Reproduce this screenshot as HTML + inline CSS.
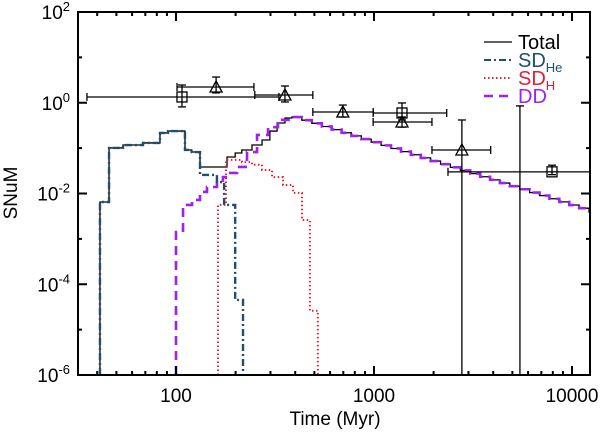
<!DOCTYPE html>
<html><head><meta charset="utf-8"><style>
body{margin:0;background:#fff}
svg text{font-family:"Liberation Sans",Arial,sans-serif}
</style></head><body>
<svg id="c" width="600" height="433" xmlns="http://www.w3.org/2000/svg"></svg>
<script>
// ---- data ----
const xTicks=[100,1000,10000];
const xTickLabels=["100","1000","10000"];
const yTicks=[1e2,1,1e-2,1e-4,1e-6];
const yTickExp=["2","0","-2","-4","-6"];
// step series: edges (Myr) and values (SNuM), values[i] spans edges[i]..edges[i+1]
const sdheEdges=[41.3,45.9,54.0,68.1,83.0,91.1,111,120,132.2,161,175,199,218];
const sdheVals=[0.0065,0.101,0.117,0.130,0.216,0.238,0.091,0.082,0.0256,0.0179,0.0056,0.000045];
const tailEdges=[385,432,485,545,611,686,769,863,968,1086,1219,1368,1535,1722,1932,2168,2432,2729,3062,3436,3855,4325,4853,5445,6109,6855,7691,8630,9683,10864,12190,12400];
const tailVals=[0.484,0.413,0.352,0.300,0.256,0.218,0.186,0.158,0.135,0.115,0.0983,0.0838,0.0714,0.0609,0.0519,0.0443,0.0377,0.0322,0.0274,0.0234,0.0200,0.0170,0.0145,0.0124,0.0105,0.0090,0.00766,0.00653,0.00557,0.00475,0.00405];
const totalEdges=[41.3,45.9,54.0,68.1,83.0,91.1,111,120,132.2,181,199,215,242,272,298,324,355,385];
const totalVals=[0.0065,0.101,0.117,0.130,0.216,0.238,0.091,0.082,0.0384,0.0637,0.078,0.091,0.117,0.151,0.238,0.358,0.461];
const ddEdges=[100,108.5,120.5,132.2,143.4,161,172.6,183.1,203.3,228.4,256.6,291.7,327.3,385];
const ddVals=[0.00141,0.0056,0.0072,0.0108,0.0139,0.0179,0.0230,0.0284,0.0384,0.082,0.195,0.29,0.42];
const sdhEdges=[162.9,178.8,215.4,242,271.8,305.5,347.3,389.9,432.8,474.7,520.5];
const sdhVals=[0.0056,0.055,0.049,0.043,0.033,0.023,0.0154,0.0103,0.0026,0.000026];
// observations
const obsT=[107.2,159.4,355,696,1385,1385,2779,7925];
const obsV=[1.34,2.22,1.48,0.625,0.595,0.377,0.091,0.030];
const obsTlo=[35.5,101.2,250,491,990,990,1962,2364];
const obsThi=[331,247.5,491,990,2329,1962,3885,20000];
const obsVlo=[0.81,1.65,1.04,0.485,0.417,0.29,1e-7,0.026];
const obsVhi=[2.46,3.69,2.34,0.89,0.99,0.485,0.417,0.042];
const obsMark=["sq","tri","tri","tri","sq","tri","tri","sq"];
const extraT=[5458];const extraHi=[0.85];

// ---- axes ----
const L=78,R=590,T=12,B=375;
const X=t=>176+198*(Math.log10(t)-2);
const Y=v=>102.75-45.375*Math.log10(v);
const cx=v=>Math.max(L,Math.min(R,v)), cy=v=>Math.max(T,Math.min(B,v));
const svg=document.getElementById('c');const NS='http://www.w3.org/2000/svg';
function mk(tag,at,parent){const e=document.createElementNS(NS,tag);for(const k in at)e.setAttribute(k,at[k]);(parent||svg).appendChild(e);return e;}

const clip=mk('clipPath',{id:'pc'});mk('rect',{x:L,y:T,width:R-L,height:B-T},clip);
const plot=mk('g',{'clip-path':'url(#pc)'});



function stepPath(edges,vals){let d='';for(let i=0;i<vals.length;i++){const x0=X(edges[i]),x1=X(edges[i+1]),y=cy(Y(vals[i]));if(i===0)d+='M'+x0+','+B+'L'+x0+','+y;else d+='L'+x0+','+y;d+='L'+x1+','+y;}d+='L'+X(edges[edges.length-1])+','+B;return d;}
function tailPath(edges,vals,start){let d=start;for(let i=0;i<vals.length;i++){const y=Y(vals[i]);d+='L'+X(edges[i])+','+y+'L'+X(edges[i+1])+','+y;}return d;}

// total
let td=stepPath(totalEdges,totalVals).replace(/L[^L]*$/,'');
td=tailPath(tailEdges,tailVals,td);
const tot=mk('path',{d:td,fill:'none',stroke:'#000','stroke-width':1.3},plot);


// DD
let dd=stepPath(ddEdges,ddVals).replace(/L[^L]*$/,'');
dd=tailPath(tailEdges,tailVals,dd);
const ddp=mk('path',{d:dd,fill:'none',stroke:'#a020f0','stroke-width':2.6,'stroke-dasharray':'9,6'},plot);


// SDH
const sdh=mk('path',{d:stepPath(sdhEdges,sdhVals),fill:'none',stroke:'#e0203a','stroke-width':2,'stroke-dasharray':'1.5,2.5'},plot);


// SDHe
const she=mk('path',{d:stepPath(sdheEdges,sdheVals),fill:'none',stroke:'#1f4e6e','stroke-width':2.4,'stroke-dasharray':'7,3,2,3'},plot);



// observations
for(let i=0;i<obsT.length;i++){
 const g=mk('g',{stroke:'#000','stroke-width':1.3,fill:'none'},plot);
 
 
 const x=X(obsT[i]),y=Y(obsV[i]),x0=X(obsTlo[i]),x1=X(obsThi[i]),y0=cy(Y(obsVlo[i])),y1=Y(obsVhi[i]);
 mk('line',{x1:x0,y1:y,x2:x1,y2:y},g);mk('line',{x1:x0,y1:y-4,x2:x0,y2:y+4},g);mk('line',{x1:x1,y1:y-4,x2:x1,y2:y+4},g);
 mk('line',{x1:x,y1:y0,x2:x,y2:y1},g);mk('line',{x1:x-4,y1:y1,x2:x+4,y2:y1},g);if(y0<B)mk('line',{x1:x-4,y1:y0,x2:x+4,y2:y0},g);
 if(obsMark[i]==='sq')mk('rect',{x:x-5,y:y-5,width:10,height:10},g);
 else mk('path',{d:`M${x-6},${y+5}L${x+6},${y+5}L${x},${y-6}Z`},g);
}
for(let i=0;i<extraT.length;i++){
 const x=X(extraT[i]),y=Y(extraHi[i]);
 const l=mk('path',{d:`M${x},${B}L${x},${y}M${x-4},${y}L${x+4},${y}`,stroke:'#000','stroke-width':1.3,fill:'none'},plot);
 
 
}

// frame & ticks
const ax=mk('g',{stroke:'#000','stroke-width':2,fill:'none'});


mk('rect',{x:L,y:T,width:R-L,height:B-T},ax);
for(let d=10;d<=10000;d*=10)for(let m=1;m<10;m++){const t=d*m,x=X(t);if(x<=L+1||x>=R-1)continue;const len=m===1?9:4;mk('line',{x1:x,y1:B,x2:x,y2:B-len},ax);mk('line',{x1:x,y1:T,x2:x,y2:T+len},ax);}
for(let e=-6;e<=2;e++){const y=Y(Math.pow(10,e));const len=e%2===0?9:4;if(y<=T+1||y>=B-1)continue;mk('line',{x1:L,y1:y,x2:L+len,y2:y},ax);mk('line',{x1:R,y1:y,x2:R-len,y2:y},ax);}

xTicks.forEach((t,i)=>{const tx=mk('text',{x:X(t),y:402,'text-anchor':'middle','font-size':19});tx.textContent=xTickLabels[i];

});
yTicks.forEach((v,i)=>{const tx=mk('text',{x:70,y:Y(v)+7,'text-anchor':'end','font-size':19});tx.innerHTML='10<tspan dy="-8" font-size="13">'+yTickExp[i]+'</tspan>';

});
const xt=mk('text',{x:335,y:425,'text-anchor':'middle','font-size':19});xt.textContent='Time (Myr)';


const yt=mk('text',{x:0,y:0,'text-anchor':'middle','font-size':19,transform:'translate(17,193) rotate(-90)'});yt.textContent='SNuM';



// legend
const lg=mk('g',{});


const items=[['Total','#000','none','',1.3],['SD','#1f4e6e','7,3,2,3','He',2],['SD','#e0203a','1.5,2.5','H',2],['DD','#a020f0','9,6','',2.6]];
const textCol=['#000','#1f4e6e','#e0203a','#a020f0'];
items.forEach((it,i)=>{const y=42+18*i;
 const ln=mk('line',{x1:484,y1:y,x2:512,y2:y,stroke:it[1],'stroke-width':it[4],'stroke-dasharray':it[2]},lg);
 
 
 const tx=mk('text',{x:518,y:y+7,'font-size':20,fill:textCol[i]},lg);
 tx.innerHTML=it[0]+(it[3]?'<tspan dy="5" font-size="13">'+it[3]+'</tspan>':'');
 
 
});
</script>
</body></html>
